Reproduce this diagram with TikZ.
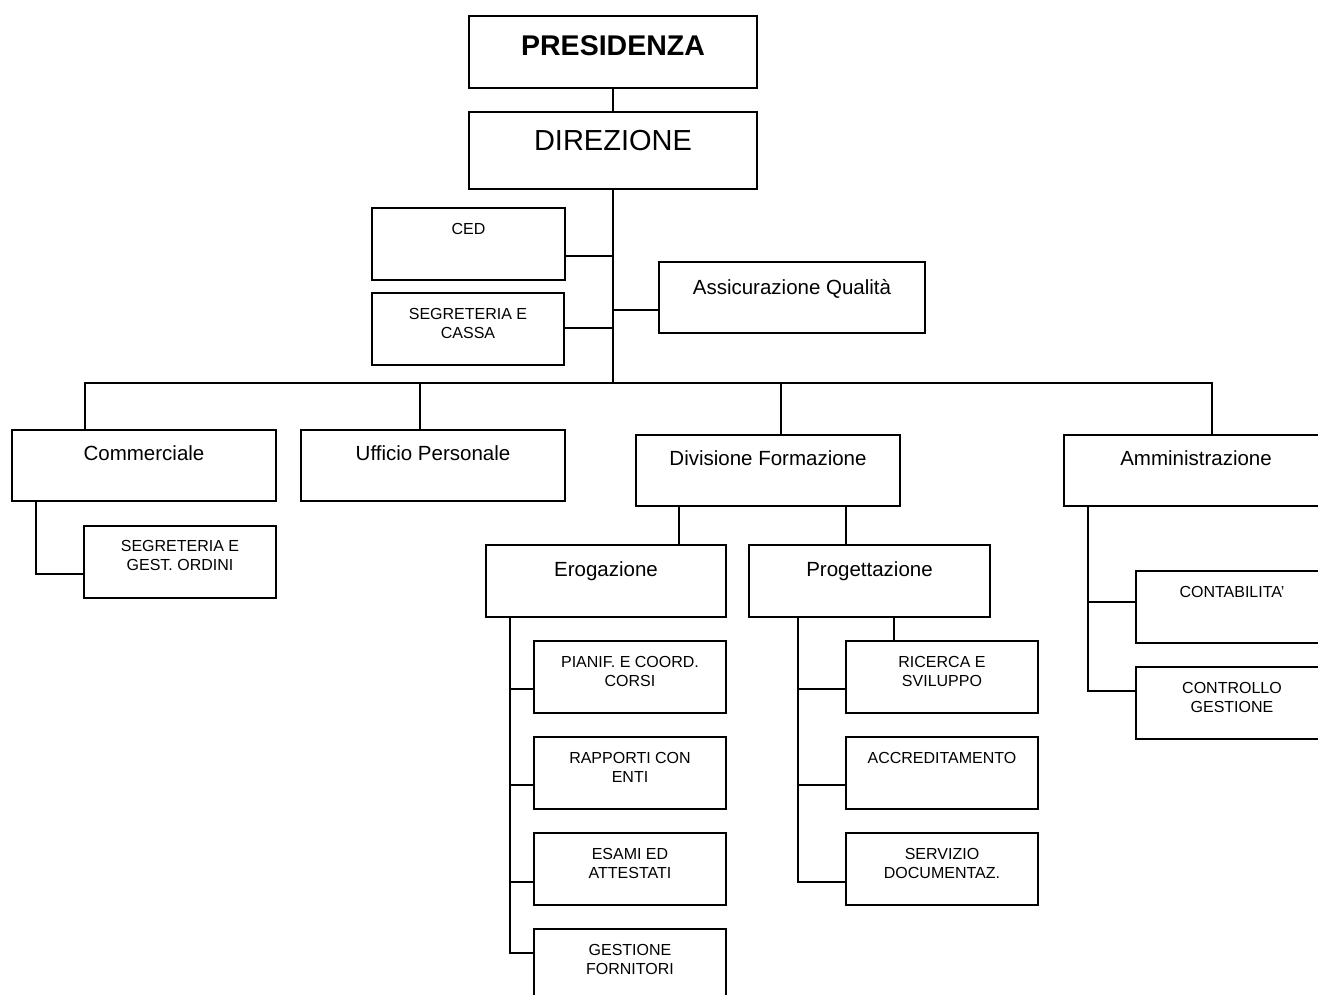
\documentclass[tikz,border=0pt]{standalone}
\usepackage{fontspec}
\setmainfont{Liberation Sans}
\begin{document}
\begin{tikzpicture}[x=1pt,y=-1pt,line width=1.6pt,
  box/.style={draw,rectangle,inner sep=0pt,fill=white},
  bigbox/.style={box,minimum width=288pt,minimum height=72pt},
  midbox/.style={box,minimum width=264pt,minimum height=71pt},
  erobox/.style={box,minimum width=241pt,minimum height=72pt},
  smallbox/.style={box,minimum width=192pt,minimum height=72pt},
  lbl/.style={anchor=north,inner sep=0pt,align=center},
  smalltxt/.style={lbl,font=\fontsize{16}{19}\selectfont,yshift=-15.3pt},
  midtxt/.style={lbl,font=\fontsize{20.5}{24}\selectfont}
]
\clip (0,0) rectangle (1318,994);
\fill[white] (0,0) rectangle (1318,994);

% boxes
\node[bigbox] (pres) at (613,52) {};
\node[bigbox,minimum height=77pt] (dir) at (613,150.5) {};
\node[smallbox,minimum width=193pt] (ced) at (468.5,244) {};
\node[smallbox] (segc) at (468,329) {};
\node[midbox,minimum width=266pt] (aq) at (792,297.5) {};
\node[midbox] (comm) at (144,465.5) {};
\node[midbox] (uff) at (433,465.5) {};
\node[midbox] (div) at (768,470.5) {};
\node[midbox] (amm) at (1196,470.5) {};
\node[smallbox] (sgo) at (180,562) {};
\node[erobox,minimum width=240pt] (ero) at (606,581) {};
\node[erobox] (prog) at (869.5,581) {};
\node[smallbox] (e1) at (630,677) {};
\node[smallbox] (e2) at (630,773) {};
\node[smallbox] (e3) at (630,869) {};
\node[smallbox] (e4) at (630,965) {};
\node[smallbox] (p1) at (942,677) {};
\node[smallbox] (p2) at (942,773) {};
\node[smallbox] (p3) at (942,869) {};
\node[smallbox] (a1) at (1232,607) {};
\node[smallbox] (a2) at (1232,703) {};

% texts
\node[lbl,font=\fontsize{28.5}{32}\selectfont\bfseries,yshift=-19.8pt] (tpres) at (pres.north) {PRESIDENZA};
\node[lbl,font=\fontsize{29}{32}\selectfont,yshift=-18.6pt] (tdir) at (dir.north) {DIREZIONE};
\node[smalltxt,yshift=-0.5pt] (tced) at (ced.north) {CED};
\node[smalltxt] (tsegc) at (segc.north) {SEGRETERIA E\\CASSA};
\node[midtxt,yshift=-17.3pt] (taq) at (aq.north) {Assicurazione Qualità};
\node[midtxt,yshift=-15.7pt] (tcomm) at (comm.north) {Commerciale};
\node[midtxt,yshift=-15.7pt] (tuff) at (uff.north) {Ufficio Personale};
\node[midtxt,yshift=-15.7pt] (tdiv) at (div.north) {Divisione Formazione};
\node[midtxt,yshift=-15.7pt] (tamm) at (amm.north) {Amministrazione};
\node[smalltxt,yshift=0.5pt] (tsgo) at (sgo.north) {SEGRETERIA E\\GEST. ORDINI};
\node[midtxt,yshift=-16.7pt] (tero) at (ero.north) {Erogazione};
\node[midtxt,yshift=-16.7pt] (tprog) at (prog.north) {Progettazione};
\node[smalltxt] (te1) at (e1.north) {PIANIF. E COORD.\\CORSI};
\node[smalltxt] (te2) at (e2.north) {RAPPORTI CON\\ENTI};
\node[smalltxt] (te3) at (e3.north) {ESAMI ED\\ATTESTATI};
\node[smalltxt] (te4) at (e4.north) {GESTIONE\\FORNITORI};
\node[smalltxt] (tp1) at (p1.north) {RICERCA E\\SVILUPPO};
\node[smalltxt] (tp2) at (p2.north) {ACCREDITAMENTO};
\node[smalltxt] (tp3) at (p3.north) {SERVIZIO\\DOCUMENTAZ.};
\node[smalltxt] (ta1) at (a1.north) {CONTABILITA’};
\node[smalltxt] (ta2) at (a2.north) {CONTROLLO\\GESTIONE};

% junction coordinates
\coordinate (jced) at (613,256);
\coordinate (jsegc) at (613,328);
\coordinate (jaq) at (613,310);
\coordinate (bus) at (613,383);
\coordinate (busL) at (85,383);
\coordinate (busU) at (420,383);
\coordinate (busD) at (781,383);
\coordinate (busR) at (1212,383);
\coordinate (ctrunk) at (36,574);
\coordinate (et) at (510,953);
\coordinate (pt) at (798,882);
\coordinate (at) at (1088,691);

\begin{scope}[line cap=rect]
\draw (pres.south) -- (dir.north);
\draw (dir.south) -- (bus);
\draw (ced.east |- jced) -- (jced);
\draw (segc.east |- jsegc) -- (jsegc);
\draw (jaq) -- (aq.west |- jaq);
\draw (busL) -- (busR);
\draw (busL) -- (busL |- comm.north);
\draw (busU) -- (busU |- uff.north);
\draw (busD) -- (busD |- div.north);
\draw (busR) -- (busR |- amm.north);
\draw (ctrunk |- comm.south) -- (ctrunk) -- (ctrunk -| sgo.west);
\draw (679,506) -- (679,545);
\draw (846,506) -- (846,545);
\draw (et |- ero.south) -- (et) -- (et -| e4.west);
\draw (510,689) -- (534,689);
\draw (510,785) -- (534,785);
\draw (510,882) -- (534,882);
\draw (pt |- prog.south) -- (pt) -- (pt -| p3.west);
\draw (798,689) -- (846,689);
\draw (798,785) -- (846,785);
\draw (894,617) -- (894,641);
\draw (at |- amm.south) -- (at) -- (at -| a2.west);
\draw (1088,602) -- (1136,602);
\end{scope}
\end{tikzpicture}
\end{document}
